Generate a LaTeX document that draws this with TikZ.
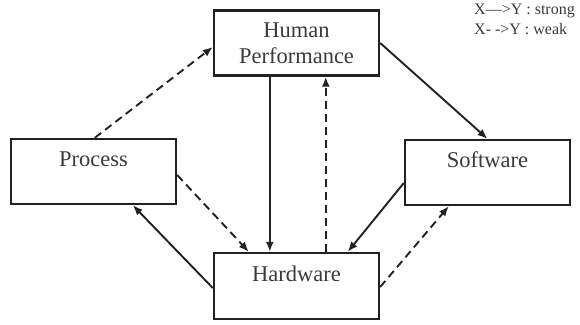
\documentclass[tikz,border=0pt]{standalone}
\usepackage{fontspec}
\setmainfont{Liberation Serif}
\usetikzlibrary{arrows.meta,calc}
\definecolor{ln}{HTML}{222222}
\definecolor{tx}{HTML}{3A3A3A}
\tikzset{
  box/.style={draw=ln, line width=2.4pt, minimum width=165pt, minimum height=65pt, inner sep=0pt},
  lbl/.style={text=tx, font=\fontsize{22.5}{26.5}\selectfont, inner sep=0pt, align=center},
  strongarr/.style={draw=ln, line width=1.9pt, -{Latex[length=10pt,width=8pt]}},
  weakarr/.style={strongarr, dash pattern=on 8pt off 5pt},
}
\begin{document}
\begin{tikzpicture}[x=1pt,y=-1pt]
\useasboundingbox (0,0) rectangle (580,324);
\node[box] (hp) at (296.5,43) {};
\node[box] (p) at (93.5,171.5) {};
\node[box] (sw) at (487.5,172.5) {};
\node[box, minimum height=66pt] (hw) at (296.5,286) {};
\node[lbl] (hpt) at (hp.center) {Human\\Performance};
\node[lbl] (pt) at ($(p.north)+(0,21)$) {Process};
\node[lbl] (swt) at ($(sw.north)+(0,21)$) {Software};
\node[lbl] (hwt) at ($(hw.north)+(0,22)$) {Hardware};
\node[text=tx, font=\fontsize{16}{20}\selectfont, anchor=north west, align=left, inner sep=0pt] (leg) at (474,4) {X—>Y : strong\\X- ->Y : weak};
% connectors
\draw[weakarr] ($(p.north west)+(85,0)$) -- ($(hp.west)+(0,4)$);
\draw[strongarr] (hp.east) -- (sw.north);
\draw[strongarr] ($(hp.south west)+(57,0)$) -- ($(hw.north west)+(57,0)$);
\draw[weakarr] ($(hw.north west)+(113,0)$) -- ($(hp.south west)+(113,0)$);
\draw[weakarr] ($(p.east)+(0,3.5)$) -- ($(hw.north west)+(36,0)$);
\draw[strongarr] ($(sw.west)+(0,10.5)$) -- ($(hw.north west)+(135,0)$);
\draw[strongarr] ($(hw.west)+(0,2)$) -- ($(p.south west)+(123,0)$);
\draw[weakarr] ($(hw.east)+(0,1)$) -- ($(sw.south west)+(45,0)$);
\end{tikzpicture}
\end{document}
